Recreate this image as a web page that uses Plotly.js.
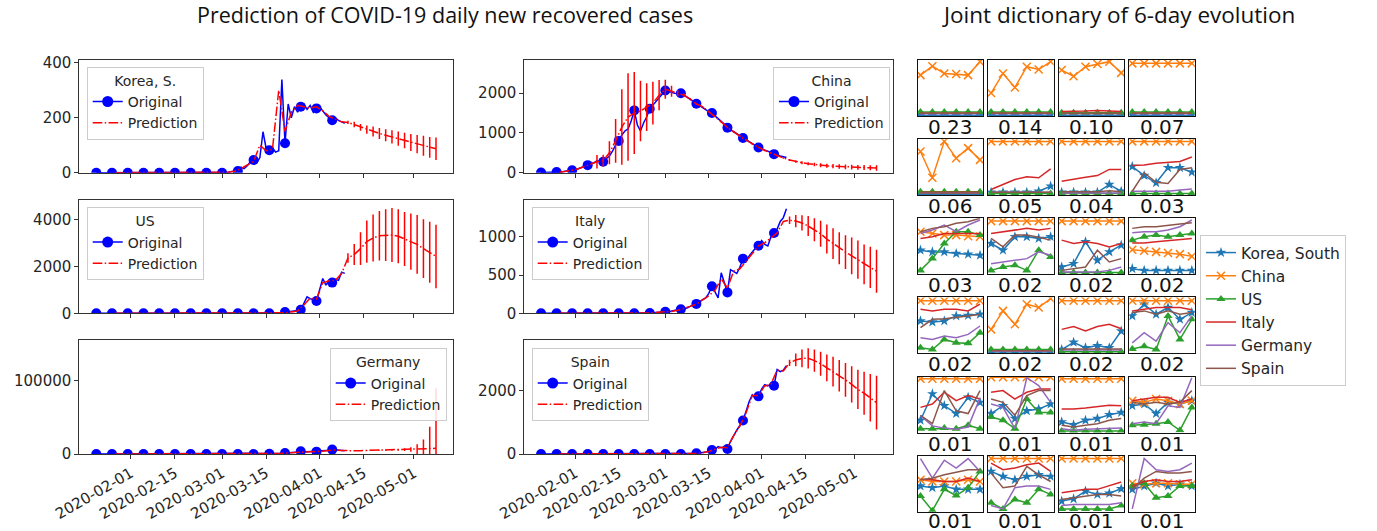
<!DOCTYPE html>
<html><head><meta charset="utf-8">
<script src="https://cdn.plot.ly/plotly-3.0.1.min.js"></script>
<style>html,body{margin:0;padding:0;background:#fff}#chart{width:1377px;height:531px}</style>
</head><body><div id="chart"></div>
<script>
// ---------------- DATA ----------------
const countries = ["Korea, S.", "China", "US", "Italy", "Germany", "Spain"];
const origStart = "2020-01-21";   // daily original values
const predStart = "2020-01-27";   // prediction every 2 days
const xTickVals = ["2020-02-01","2020-02-15","2020-03-01","2020-03-15","2020-04-01","2020-04-15","2020-05-01"];

const korOrig = [0,0,0,0,0,0,0,0,0,0,0,0,0,0,0,0,0,0,0,0,0,0,0,0,0,0,0,0,0,0,0,0,0,0,0,0,0,0,0,0,0,
 1,2,4,5,6,20,15,25,40,46,35,55,149,88,82,90,75,80,339,107,250,200,240,220,240,250,230,245,220,234,240,225,210,200,191,200,190,185,180];
const chnOrig = [5,5,5,10,10,15,15,25,40,50,60,
 80,100,130,160,190,210,250,300,280,275,
 350,420,540,700,800,950,1050,1100,1300,1567,
 1200,1050,1250,1400,1608,1700,1800,1900,2000,2067,
 2050,2020,2000,1990,2000,1950,1900,1830,1780,1733,
 1690,1650,1600,1550,1500,1430,1360,1290,1210,1133,
 1080,1030,980,930,875,830,780,730,680,633,
 600,570,530,500,467,440,420,400,380];
const usOrig = [0,0,0,0,0,0,0,0,0,0,0,0,0,0,0,0,0,0,0,0,0,0,0,0,0,0,0,0,0,0,0,0,0,0,0,0,0,0,0,0,0,0,0,0,0,0,0,0,0,0,0,0,0,0,0,0,0,
 5,10,15,50,60,80,100,120,150,400,700,620,600,525,1000,1480,1200,1400,1305,1450,1400,1750,1700];
const itaOrig = [0,0,0,0,0,0,0,0,0,0,0,0,0,0,0,0,0,0,0,0,0,0,0,0,0,0,0,0,0,0,0,0,
 2,3,4,5,8,10,12,15,20,25,
 30,40,45,53,60,70,90,110,123,150,180,200,260,353,280,200,530,400,273,570,550,520,600,714,680,750,800,850,882,950,900,880,1000,1050,1100,1200,1250,1367];
const gerOrig = [0,0,0,0,0,0,0,0,0,0,0,0,0,0,0,0,0,0,0,0,0,0,0,0,0,0,0,0,0,0,0,0,0,0,0,0,0,0,0,0,0,0,0,0,0,0,0,0,0,0,0,
 100,200,300,300,400,500,600,800,1000,1200,1500,1800,2200,2800,3600,3200,3000,3200,3400,3200,3500,4000,4500,5000,6000,5400,5000,4800,4500];
const spaOrig = [0,0,0,0,0,0,0,0,0,0,0,0,0,0,0,0,0,0,0,0,0,0,0,0,0,0,0,0,0,0,0,0,0,0,0,0,0,0,0,0,0,0,0,0,0,0,0,0,0,0,
 20,30,40,60,90,127,150,233,200,220,159,400,600,750,900,1058,1350,1660,1870,1750,1820,2050,2190,2150,2200,2158,2666,2600,2650,2790];

const korPred = [0,0,0,0,0,0,0,0,0,0,0,0,0,0,0,0,0,0,
 2,5,15,28,40,100,80,85,300,150,220,245,240,235,240,225,205,195,185,
 183,175,165,157,150,143,136,130,124,117,110,104,98,92,87];
const korErr = [0,0,0,0,0,0,0,0,0,0,0,0,0,0,0,0,0,0,0,0,0,0,0,0,0,0,0,0,0,0,0,0,0,0,0,0,0,
 6,10,12,15,18,20,22,24,26,28,31,33,36,38,41];
const chnPred = [10,30,60,100,160,220,275,300,500,800,1150,1400,1500,1550,1650,1750,1950,2100,
 2050,2000,1950,1850,1730,1660,1540,1420,1280,1140,1020,920,820,720,640,560,490,420,370,
 320,280,250,225,205,190,175,165,155,148,140,135,130,125,120];
const chnErr = [0,0,0,0,0,0,170,150,290,550,950,1100,1030,760,600,540,380,240,
 140,80,40,30,25,20,20,20,20,20,20,20,20,20,20,20,20,20,20,
 25,30,35,40,45,50,50,55,55,60,60,60,65,65,70];
const usPred = [0,0,0,0,0,0,0,0,0,0,0,0,0,0,0,0,0,0,0,0,0,0,0,0,0,0,0,
 20,60,100,350,650,600,1300,1380,1400,1700,
 2350,2500,2750,3050,3200,3300,3330,3330,3280,3160,3050,2930,2750,2600,2420];
const usErr = [0,0,0,0,0,0,0,0,0,0,0,0,0,0,0,0,0,0,0,0,0,0,0,0,0,0,0,0,0,0,0,0,0,0,0,0,0,
 200,450,700,900,1000,1050,1100,1150,1150,1150,1200,1250,1250,1300,1350];
const itaPred = [0,0,0,0,0,0,0,0,0,0,0,0,0,2,5,10,12,20,
 25,40,60,90,120,170,230,300,450,330,550,580,680,780,880,920,980,1050,1200,
 1215,1205,1180,1140,1090,1040,970,910,850,800,750,700,640,600,550];
const itaErr = [0,0,0,0,0,0,0,0,0,0,0,0,0,0,0,0,0,0,0,0,0,0,0,0,0,0,0,0,0,0,0,0,0,0,0,0,0,
 50,80,100,130,150,170,190,200,210,220,240,250,260,270,280];
const gerPred = [0,0,0,0,0,0,0,0,0,0,0,0,0,0,0,0,0,0,0,0,0,0,0,
 200,300,500,800,1200,1800,2800,3200,3200,3300,4000,5000,5400,4800,
 4200,4400,4600,4800,5000,5200,5400,5500,5700,5900,6100,6400,6800,7200,7700];
const gerErr = [0,0,0,0,0,0,0,0,0,0,0,0,0,0,0,0,0,0,0,0,0,0,0,0,0,0,0,0,0,0,0,0,0,0,0,0,0,
 200,300,400,500,600,700,800,900,1200,1800,3000,7000,13000,30000,82000];
const spaPred = [0,0,0,0,0,0,0,0,0,0,0,0,0,0,0,0,0,0,0,0,0,0,
 20,40,80,150,210,200,580,880,1300,1850,1850,2150,2200,2650,2620,
 2880,2970,3020,3020,2950,2850,2720,2600,2470,2340,2200,2040,1920,1780,1620];
const spaErr = [0,0,0,0,0,0,0,0,0,0,0,0,0,0,0,0,0,0,0,0,0,0,0,0,0,0,0,0,0,0,0,0,0,0,0,0,0,
 100,200,280,320,350,380,420,470,500,530,570,620,680,750,850];

const yTop = [410, 2835, 4820, 1480, 155500, 3600];
const yDtick = [200, 1000, 2000, 500, 100000, 2000];

// dictionary atoms (6-day evolution), one row per atom
const atomSeries = ["Korea, South", "China", "US", "Italy", "Germany", "Spain"];
const atomWeights = ["0.23","0.14","0.10","0.07","0.06","0.05","0.04","0.03","0.03","0.02","0.02","0.02",
 "0.02","0.02","0.02","0.02","0.01","0.01","0.01","0.01","0.01","0.01","0.01","0.01"];
const atomKorea = [
 [.01,.01,.01,.01,.01,.01],[.01,.01,.01,.01,.01,.01],[.01,.01,.01,.01,.01,.01],[.01,.01,.01,.01,.01,.01],
 [.01,.01,.01,.01,.01,.01],[.05,.05,.05,.05,.07,.16],[.05,.05,.05,.05,.19,.07],[.51,.35,.22,.49,.49,.41],
 [.43,.40,.40,.37,.36,.34],[.55,.43,.67,.67,.64,.67],[.13,.19,.58,.25,.40,.52],[.10,.07,.07,.07,.07,.07],
 [.58,.56,.58,.67,.68,.70],[.01,.01,.01,.01,.01,.01],[.07,.20,.10,.14,.10,.40],[.67,.88,.70,.82,.61,.73],
 [.22,.69,.48,.34,.63,.54],[.34,.48,.25,.39,.42,.51],[.19,.14,.22,.25,.32,.36],[.48,.51,.34,.54,.51,.57],
 [.46,.43,.46,.40,.40,.40],[.72,.63,.57,.63,.66,.63],[.19,.23,.37,.31,.33,.41],[.40,.46,.51,.46,.49,.46]];
const atomChina = [
 [.73,.89,.76,.75,.73,.97],[.41,.76,.51,.88,.83,.97],[.82,.71,.88,.93,.97,.77],[.94,.94,.94,.94,.94,.94],
 [.78,.31,.96,.66,.84,.63],[.96,.96,.96,.96,.96,.96],[.96,.96,.96,.96,.96,.96],[.96,.96,.96,.96,.96,.96],
 [.76,.73,.70,.70,.68,.67],[.95,.95,.95,.95,.95,.95],[.95,.95,.95,.95,.95,.95],[.44,.42,.40,.38,.36,.32],
 [.94,.94,.94,.94,.94,.94],[.43,.76,.52,.88,.82,.98],[.94,.94,.94,.94,.94,.94],[.94,.94,.94,.94,.94,.94],
 [.96,.96,.96,.96,.96,.96],[.99,.99,.99,.99,.99,.99],[.96,.96,.96,.96,.96,.96],[.57,.54,.60,.57,.51,.57],
 [.57,.54,.54,.54,.57,.54],[.95,.95,.95,.95,.95,.95],[.95,.95,.95,.95,.95,.95],[.51,.49,.51,.51,.49,.49]];
const atomUS = [
 [.07,.07,.07,.07,.07,.07],[.07,.07,.07,.07,.07,.07],[.06,.06,.06,.06,.06,.06],[.07,.07,.07,.07,.07,.07],
 [.06,.06,.06,.06,.06,.06],[.03,.03,.03,.03,.03,.03],[.03,.03,.03,.03,.03,.03],[.03,.03,.03,.03,.03,.03],
 [.07,.28,.55,.76,.76,.70],[.07,.13,.16,.07,.43,.31],[.03,.03,.03,.03,.03,.03],[.61,.67,.70,.67,.70,.73],
 [.10,.07,.25,.19,.18,.37],[.07,.07,.07,.07,.07,.07],[.03,.03,.03,.03,.03,.03],[.08,.13,.07,.67,.25,.61],
 [.07,.07,.08,.07,.13,.07],[.28,.22,.07,.60,.36,.36],[.03,.03,.03,.03,.03,.03],[.13,.14,.16,.19,.04,.45],
 [.28,.02,.40,.29,.43,.72],[.16,.05,.22,.16,.40,.31],[.05,.05,.05,.05,.05,.11],[.46,.51,.25,.28,.46,.46]];
const atomItaly = [
 [.05,.05,.05,.05,.05,.05],[.05,.05,.05,.05,.05,.05],[.08,.08,.09,.10,.09,.08],[.05,.05,.05,.05,.05,.05],
 [.05,.05,.05,.05,.05,.05],[.10,.19,.28,.33,.31,.47],[.25,.29,.32,.35,.46,.46],[.53,.54,.57,.59,.60,.68],
 [.64,.67,.73,.73,.73,.73],[.73,.76,.79,.82,.79,.82],[.61,.55,.58,.55,.49,.55],[.56,.56,.58,.60,.62,.64],
 [.79,.76,.79,.79,.76,.88],[.05,.05,.05,.05,.05,.05],[.43,.48,.40,.48,.52,.44],[.76,.79,.82,.82,.82,.78],
 [.45,.51,.72,.57,.66,.60],[.72,.75,.60,.72,.78,.78],[.42,.42,.44,.47,.49,.48],[.57,.60,.63,.63,.54,.60],
 [.58,.57,.54,.54,.60,.54],[.87,.75,.78,.84,.87,.72],[.34,.37,.40,.40,.46,.53],[.46,.54,.57,.54,.54,.57]];
const atomGermany = [
 [.04,.04,.04,.04,.04,.04],[.04,.04,.04,.04,.04,.04],[.04,.04,.04,.04,.04,.04],[.04,.04,.04,.04,.04,.04],
 [.04,.04,.04,.04,.04,.04],[.05,.05,.05,.05,.05,.05],[.04,.04,.04,.04,.04,.04],[.07,.07,.07,.07,.09,.11],
 [.73,.79,.88,.76,.88,.97],[.19,.22,.25,.28,.40,.34],[.04,.04,.04,.04,.07,.13],[.74,.76,.76,.79,.85,.97],
 [.28,.25,.31,.28,.34,.49],[.04,.04,.04,.04,.04,.04],[.06,.06,.06,.06,.06,.06],[.19,.37,.22,.55,.37,.67],
 [.30,.12,.08,.06,.10,.62],[.51,.45,.07,.98,.84,.54],[.07,.04,.06,.07,.07,.08],[.16,.19,.16,.48,.45,.98],
 [.95,.60,.92,.78,.95,.72],[.11,.05,.43,.46,.46,.40],[.11,.13,.13,.13,.13,.16],[.05,.95,.75,.72,.75,.87]];
const atomSpain = [
 [.05,.05,.05,.05,.05,.05],[.05,.05,.05,.05,.05,.05],[.05,.05,.05,.05,.05,.05],[.05,.05,.05,.05,.05,.05],
 [.04,.04,.04,.04,.04,.04],[.05,.05,.05,.05,.05,.05],[.06,.06,.06,.06,.08,.06],[.07,.40,.23,.21,.46,.49],
 [.76,.82,.85,.91,.94,1.0],[.64,.49,.70,.70,.66,.61],[.07,.10,.13,.43,.22,.28],[.82,.85,.85,.88,.90,.92],
 [.46,.61,.62,.64,.67,.70],[.05,.05,.05,.05,.05,.05],[.08,.08,.08,.08,.08,.08],[.73,.76,.70,.76,.70,.73],
 [.31,.16,.75,.39,.34,.75],[.60,.54,.31,.66,.75,.75],[.13,.10,.13,.16,.22,.25],[.54,.51,.54,.51,.54,.75],
 [.57,.60,.66,.70,.75,.75],[.69,.43,.46,.81,.66,.54],[.22,.25,.28,.31,.31,.28],[.40,.60,.72,.69,.69,.72]];
const atomDays = [0,1,2,3,4,5];

// ---------------- LAYOUT HELPERS ----------------
const W = 1377, H = 531;
const fx = p => p / W, fy = p => 1 - p / H;
function dates(start, n, step) {
  const t0 = Date.parse(start + "T00:00:00Z"), out = [];
  for (let i = 0; i < n; i++) out.push(new Date(t0 + i * step * 86400000).toISOString().slice(0, 10));
  return out;
}
const origs = [korOrig, chnOrig, usOrig, itaOrig, gerOrig, spaOrig];
const preds = [korPred, chnPred, usPred, itaPred, gerPred, spaPred];
const errs = [korErr, chnErr, usErr, itaErr, gerErr, spaErr];
const colX = [[79.3, 453], [524.3, 893.3]];
const rowY = [[60, 172.7], [200, 313.3], [340, 454]];
const legPos = [
  {x: 86.7, y: 66.7, a: "left"}, {x: 890, y: 66.7, a: "right"},
  {x: 86.7, y: 207.3, a: "left"}, {x: 531.7, y: 207.3, a: "left"},
  {x: 446.7, y: 348.3, a: "right"}, {x: 531.7, y: 348.3, a: "left"}];
const FONT = "DejaVu Sans, sans-serif";
const TXT = "#262626";
const PRED_DASH = "9.6px,2.4px,1.5px,2.4px";

const traces = [];
const layout = {
  width: W, height: H, margin: {l: 0, r: 0, t: 0, b: 0},
  paper_bgcolor: "#fff", plot_bgcolor: "#fff", showlegend: true,
  font: {family: FONT, size: 14, color: TXT},
  annotations: []
};

for (let k = 0; k < 6; k++) {
  const col = k % 2, row = Math.floor(k / 2);
  const xa = "x" + (k + 1), ya = "y" + (k + 1);
  const lg = k === 0 ? "legend" : "legend" + (k + 1);
  const od = dates(origStart, origs[k].length, 1);
  const pd = dates(predStart, preds[k].length, 2);
  // original daily line, markers every 5th day
  traces.push({
    type: "scatter", mode: "lines+markers", x: od, y: origs[k], xaxis: xa, yaxis: ya,
    name: "Original", legend: lg, showlegend: false,
    line: {color: "#0000ff", width: 1.5},
    marker: {color: "#0000ff", opacity: 1, size: origs[k].map((v, i) => i % 5 === 0 ? 10 : 0), line: {width: 0}},
    hoverinfo: "skip"
  });
  // legend entry for original
  traces.push({
    type: "scatter", mode: "lines+markers", x: [null], y: [null], xaxis: xa, yaxis: ya,
    name: "Original", legend: lg, showlegend: true,
    line: {color: "#0000ff", width: 1.5}, marker: {color: "#0000ff", size: 11, opacity: 1}, hoverinfo: "skip"
  });
  traces.push({
    type: "scatter", mode: "lines", x: pd, y: preds[k], xaxis: xa, yaxis: ya,
    name: "Prediction", legend: lg,
    line: {color: "#ff0000", width: 1.5, dash: PRED_DASH},
    error_y: {type: "data", array: errs[k], visible: true, color: "#ff0000", thickness: 1.5, width: 0},
    hoverinfo: "skip"
  });
  const axName = k === 0 ? "" : String(k + 1);
  layout["xaxis" + axName] = {
    domain: [fx(colX[col][0]), fx(colX[col][1])], anchor: ya, type: "date",
    range: ["2020-01-15 14:24", "2020-05-13 09:36"],
    tickvals: xTickVals, ticktext: xTickVals, tickangle: -30,
    showticklabels: row === 2, ticks: "outside", ticklen: 4, tickwidth: 1, tickcolor: "#333",
    showline: true, mirror: true, linecolor: "#333", linewidth: 1, showgrid: false, zeroline: false,
    tickfont: {family: FONT, size: 15, color: TXT}
  };
  layout["yaxis" + axName] = {
    domain: [fy(rowY[row][1]), fy(rowY[row][0])], anchor: xa,
    range: [0, yTop[k]], dtick: yDtick[k], tick0: 0, tickformat: "d",
    ticks: "outside", ticklen: 4, tickwidth: 1, tickcolor: "#333",
    showline: true, mirror: true, linecolor: "#333", linewidth: 1, showgrid: false, zeroline: false,
    tickfont: {family: FONT, size: 15, color: TXT}
  };
  const p = legPos[k];
  layout[lg] = {
    x: fx(p.x), y: fy(p.y), xanchor: p.a, yanchor: "top",
    bgcolor: "rgba(255,255,255,0.85)", bordercolor: "#cccccc", borderwidth: 1,
    font: {family: FONT, size: 14, color: TXT}, tracegroupgap: 0,
    title: {text: countries[k], side: "top center", font: {family: FONT, size: 14, color: TXT}}
  };
}

// dictionary panels
const atoms = [atomKorea, atomChina, atomUS, atomItaly, atomGermany, atomSpain];
const atomColors = ["#1f77b4", "#ff7f0e", "#2ca02c", "#d62728", "#9467bd", "#8c564b"];
const atomMarkers = [
  {symbol: "star", size: 8},
  {symbol: "x-thin", size: 8, line: {width: 1.5, color: "#ff7f0e"}},
  {symbol: "triangle-up", size: 8},
  null, null, null];
const pX0 = 917.5, pW = 65.5, pDX = 70.6, pY0 = 60, pH = 56, pDY = 79.15;
for (let a = 0; a < 24; a++) {
  const r = Math.floor(a / 4), c = a % 4, n = 7 + a;
  const xa = "x" + n, ya = "y" + n;
  const x0 = pX0 + c * pDX, y0 = pY0 + r * pDY;
  layout["xaxis" + n] = {domain: [fx(x0), fx(x0 + pW)], anchor: ya, range: [-0.25, 5.25],
    showticklabels: false, ticks: "", showgrid: false, zeroline: false,
    showline: true, mirror: true, linecolor: "#111", linewidth: 1};
  layout["yaxis" + n] = {domain: [fy(y0 + pH), fy(y0)], anchor: xa, range: [0, 1.0],
    showticklabels: false, ticks: "", showgrid: false, zeroline: false,
    showline: true, mirror: true, linecolor: "#111", linewidth: 1};
  for (let s = 0; s < 6; s++) {
    const m = atomMarkers[s];
    const tr = {
      type: "scatter", mode: m ? "lines+markers" : "lines", x: atomDays, y: atoms[s][a],
      xaxis: xa, yaxis: ya, name: atomSeries[s], legend: "legend7", showlegend: a === 0,
      line: {color: atomColors[s], width: 1.5}, hoverinfo: "skip"
    };
    if (m) tr.marker = Object.assign({color: atomColors[s]}, m);
    traces.push(tr);
  }
  const lastRow = r === 5;
  layout.annotations.push({xref: "paper", yref: "paper", x: fx(x0 + pW / 2),
    y: fy(lastRow ? 520.5 : y0 + pH + 11),
    xanchor: "center", yanchor: "middle", showarrow: false, text: atomWeights[a],
    font: {family: FONT, size: 20, color: "#111"}});
}
layout.legend7 = {
  x: fx(1200), y: fy(235), xanchor: "left", yanchor: "top",
  bgcolor: "#fff", bordercolor: "#cccccc", borderwidth: 1, tracegroupgap: 0,
  font: {family: FONT, size: 15.5, color: TXT}
};

layout.annotations.push({xref: "paper", yref: "paper", x: fx(445), y: fy(15), xanchor: "center", yanchor: "middle",
  showarrow: false, text: "Prediction of COVID-19 daily new recovered cases",
  font: {family: "Open Sans, sans-serif", size: 21.5, color: "#111"}});
layout.annotations.push({xref: "paper", yref: "paper", x: fx(1118), y: fy(15), xanchor: "center", yanchor: "middle",
  showarrow: false, text: "Joint dictionary of 6-day evolution",
  font: {family: "Open Sans, sans-serif", size: 22.5, color: "#111"}});

Plotly.newPlot("chart", traces, layout, {staticPlot: true, displayModeBar: false});
</script>
</body></html>
